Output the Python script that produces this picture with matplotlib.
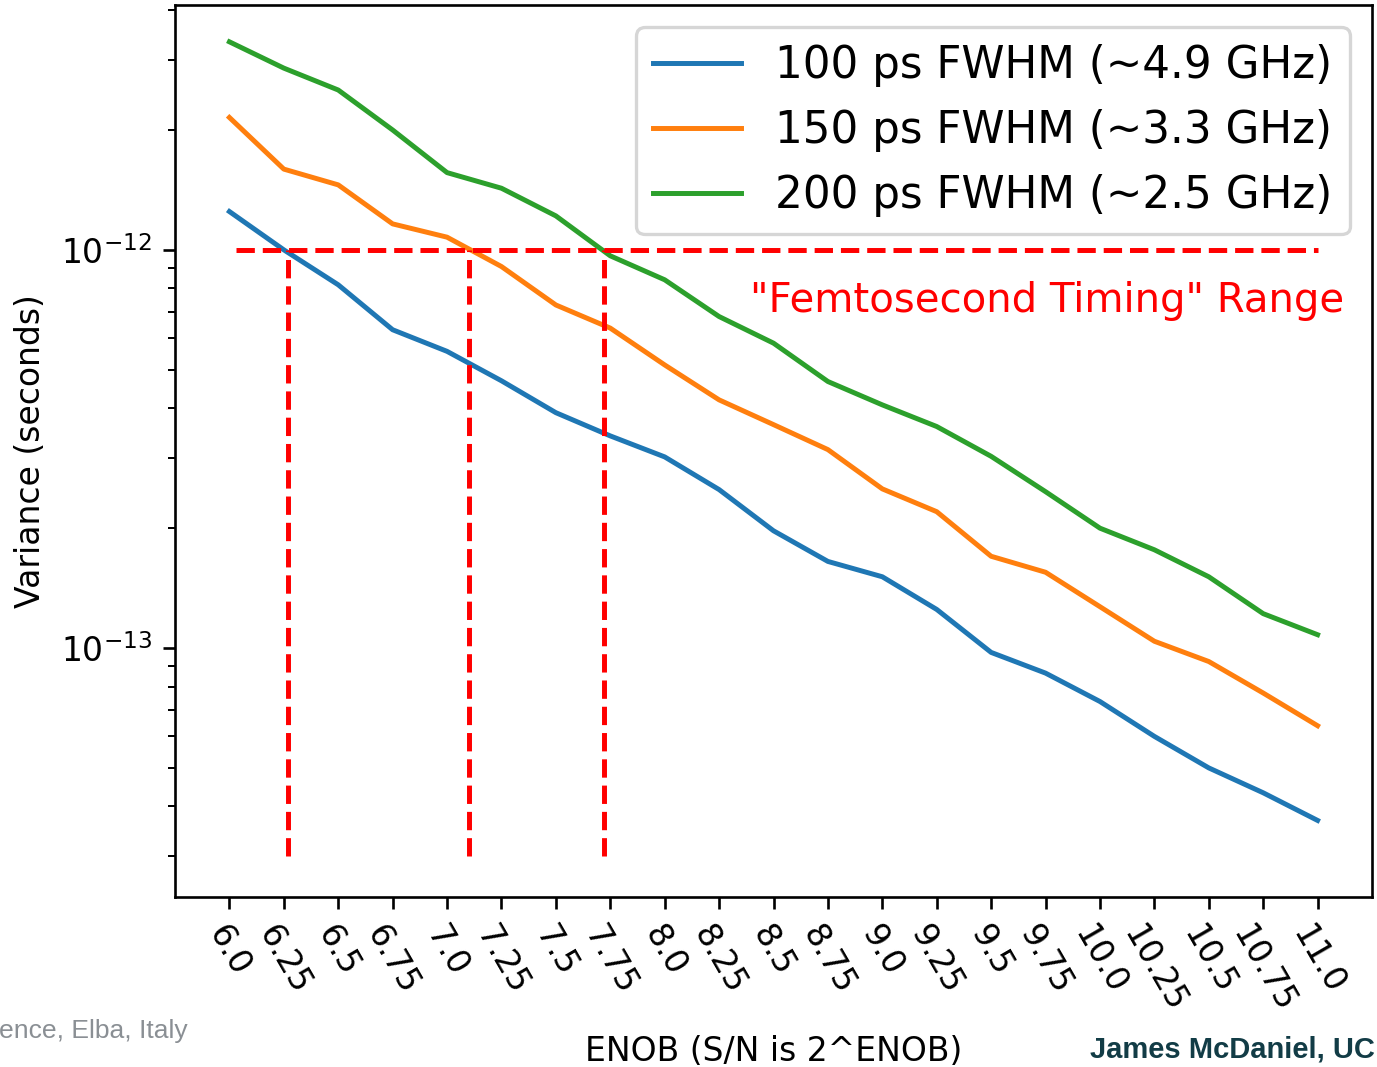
import numpy as np
import matplotlib
matplotlib.use("Agg")
import matplotlib.pyplot as plt

enob = [6.0, 6.25, 6.5, 6.75, 7.0, 7.25, 7.5, 7.75, 8.0, 8.25, 8.5,
        8.75, 9.0, 9.25, 9.5, 9.75, 10.0, 10.25, 10.5, 10.75, 11.0]
xtick_labels = ["6.0", "6.25", "6.5", "6.75", "7.0", "7.25", "7.5", "7.75",
                "8.0", "8.25", "8.5", "8.75", "9.0", "9.25", "9.5", "9.75",
                "10.0", "10.25", "10.5", "10.75", "11.0"]

var_100ps = [1.248e-12, 1.00e-12, 8.17e-13, 6.30e-13, 5.56e-13, 4.69e-13,
             3.90e-13, 3.41e-13, 3.02e-13, 2.50e-13, 1.97e-13, 1.65e-13,
             1.51e-13, 1.25e-13, 9.75e-14, 8.65e-14, 7.34e-14, 6.00e-14,
             5.00e-14, 4.33e-14, 3.69e-14]
var_150ps = [2.15e-12, 1.595e-12, 1.456e-12, 1.162e-12, 1.076e-12, 9.08e-13,
             7.27e-13, 6.36e-13, 5.14e-13, 4.20e-13, 3.64e-13, 3.15e-13,
             2.51e-13, 2.20e-13, 1.70e-13, 1.55e-13, 1.27e-13, 1.04e-13,
             9.25e-14, 7.71e-14, 6.38e-14]
var_200ps = [3.33e-12, 2.86e-12, 2.52e-12, 2.00e-12, 1.563e-12, 1.428e-12,
             1.217e-12, 9.66e-13, 8.41e-13, 6.80e-13, 5.83e-13, 4.67e-13,
             4.08e-13, 3.60e-13, 3.03e-13, 2.47e-13, 2.00e-13, 1.765e-13,
             1.51e-13, 1.22e-13, 1.08e-13]
labels = ["100 ps FWHM (~4.9 GHz)", "150 ps FWHM (~3.3 GHz)",
          "200 ps FWHM (~2.5 GHz)"]

threshold = 1e-12
crossings = [6.27, 7.10, 7.72]
vline_bottom = 3e-14
hline_range = [6.03, 11.0]

DPI = 238
fig = plt.figure(figsize=(1377 / DPI, 1067 / DPI), dpi=DPI)
ax = fig.add_axes([175 / 1377, 1 - 897 / 1067, 1197 / 1377, 892 / 1067])

ax.plot(enob, var_100ps, label=labels[0], color="#1f77b4")
ax.plot(enob, var_150ps, label=labels[1], color="#ff7f0e")
ax.plot(enob, var_200ps, label=labels[2], color="#2ca02c")

ax.hlines(threshold, hline_range[0], hline_range[1], colors="red",
          linestyles="--", linewidth=1.5)
ax.vlines(crossings, vline_bottom, threshold, colors="red",
          linestyles="--", linewidth=1.5)

ax.set_yscale("log")
ax.set_xlim(5.75, 11.25)
ax.set_ylim(2.37e-14, 4.12e-12)
ax.set_xticks(enob)
ax.set_xticklabels(xtick_labels, rotation=-60, ha="center")

ax.text(8.39, 7.0e-13, '"Femtosecond Timing" Range', color="red",
        fontsize=12.2, ha="left", va="baseline")

ax.set_xlabel("ENOB (S/N is 2^ENOB)", labelpad=5)
ax.set_ylabel("Variance (seconds)")
ax.legend(loc="upper right", fontsize=13.2)

fig.text(188 / 1377, 1 - 1038 / 1067, "ence, Elba, Italy", color="#8a8f94",
         fontsize=8.0, family="Liberation Sans", ha="right", va="baseline")
fig.text(1375 / 1377, 1 - 1057 / 1067, "James McDaniel, UC", color="#123c46",
         fontsize=8.8, family="Liberation Sans", fontweight="bold",
         ha="right", va="baseline")

fig.savefig("out.png", dpi=DPI)
